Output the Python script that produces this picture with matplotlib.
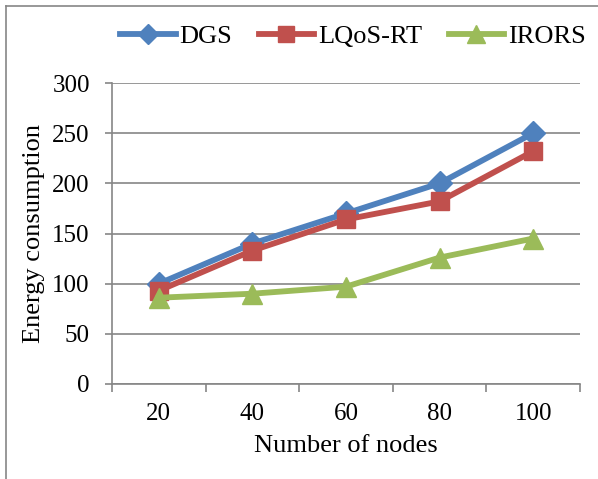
import matplotlib.pyplot as plt
import numpy as np
from matplotlib.lines import Line2D

plt.rcParams['font.family'] = ['Liberation Serif', 'DejaVu Serif']

nodes = ['20', '40', '60', '80', '100']
dgs = [100, 140, 170, 200, 250]
lqos_rt = [93, 133, 164, 182, 232]
irors = [86, 90, 97, 126, 145]

grey = '#868686'
fs = 18

fig = plt.figure(figsize=(5.98, 4.79), dpi=100)
ax = fig.add_axes([112 / 598, 95 / 479, 468 / 598, 301 / 479])

x = np.arange(len(nodes))
ax.plot(x, dgs, color='#4F81BD', lw=4.2, marker='D', ms=12, label='DGS', zorder=3)
ax.plot(x, lqos_rt, color='#C0504D', lw=4.2, marker='s', ms=13, label='LQoS-RT', zorder=4)
ax.plot(x, irors, color='#9BBB59', lw=4.2, marker='^', ms=15, label='IRORS', zorder=5)

ax.set_xlim(-0.5, len(nodes) - 0.5)
ax.set_ylim(0, 300)
ax.set_yticks(range(0, 301, 50))
ax.yaxis.grid(True, color=grey, lw=1.2)
ax.set_axisbelow(True)

ax.set_xticks(x)
ax.set_xticklabels(nodes)
ax.set_xticks(np.arange(-0.5, len(nodes), 1.0), minor=True)
ax.tick_params(axis='x', which='major', length=0, pad=14, labelsize=fs)
ax.tick_params(axis='x', which='minor', length=6, width=1.2, color=grey, direction='out')
ax.tick_params(axis='y', length=5, width=1.2, color=grey, pad=11, labelsize=fs)

for s in ['top', 'right']:
    ax.spines[s].set_visible(False)
for s in ['left', 'bottom']:
    ax.spines[s].set_color(grey)
    ax.spines[s].set_linewidth(1.2)

ax.set_xlabel('Number of nodes', fontsize=19, labelpad=7)
ax.set_ylabel('Energy consumption', fontsize=19, labelpad=5)

fig.legend(loc='center', bbox_to_anchor=(353 / 598, 1 - 36 / 479), ncol=3, frameon=False,
           fontsize=19, handlelength=2.1, handletextpad=0.15, columnspacing=1.0,
           markerscale=0.85)

# figure border (only left and top visible)
fig.add_artist(Line2D([6 / 598, 6 / 598], [0, 1 - 6 / 479], transform=fig.transFigure,
                      color=grey, lw=1.2))
fig.add_artist(Line2D([6 / 598, 1], [1 - 6 / 479, 1 - 6 / 479], transform=fig.transFigure,
                      color=grey, lw=1.2))

fig.savefig('out.png', dpi=100)
